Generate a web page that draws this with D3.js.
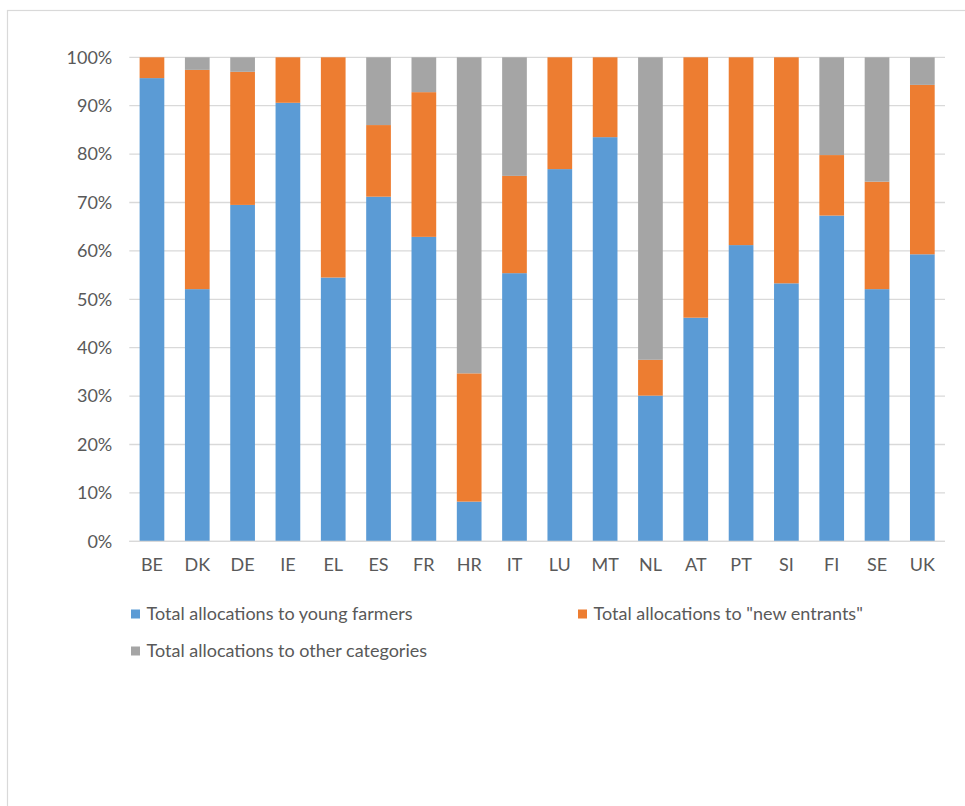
<!DOCTYPE html>
<html>
<head>
<meta charset="utf-8">
<script src="https://cdn.jsdelivr.net/npm/d3@7"></script>
<style>
  html, body { margin: 0; padding: 0; background: #fff; }
  svg { display: block; }
  text { font-family: Lato, "Open Sans", sans-serif; fill: #595959; }
</style>
</head>
<body>
<svg id="chart" width="965" height="806"></svg>
<script>
// Member states
const countries = ["BE","DK","DE","IE","EL","ES","FR","HR","IT","LU","MT","NL","AT","PT","SI","FI","SE","UK"];

// Share of allocations (%) by category
const youngFarmers = [95.7,52.1,69.5,90.6,54.5,71.2,62.9,8.2,55.4,76.9,83.5,30.1,46.2,61.2,53.3,67.3,52.1,59.3];
const newEntrants  = [ 4.3,45.3,27.5, 9.4,45.5,14.8,29.9,26.5,20.1,23.1,16.5, 7.4,53.8,38.8,46.7,12.5,22.2,35.0];
const otherCats    = [ 0.0, 2.6, 3.0, 0.0, 0.0,14.0, 7.2,65.3,24.5, 0.0, 0.0,62.5, 0.0, 0.0, 0.0,20.2,25.7, 5.7];

const seriesNames = ["Total allocations to young farmers", "Total allocations to \"new entrants\"", "Total allocations to other categories"];
const seriesColors = ["#5b9bd5", "#ed7d31", "#a5a5a5"];
const yTicks = [0,10,20,30,40,50,60,70,80,90,100];

const svg = d3.select("#chart");

// Chart frame
svg.append("rect")
  .attr("x", 7.5).attr("y", 10.5)
  .attr("width", 1000).attr("height", 900)
  .attr("fill", "#fff").attr("stroke", "#d9d9d9").attr("stroke-width", 1.2);

const plot = { left: 129.3, right: 945, top: 57.3, bottom: 541.3 };

const x = d3.scaleBand().domain(countries).range([plot.left, plot.right]).paddingInner(0.455).paddingOuter(0.2275);
const y = d3.scaleLinear().domain([0, 100]).range([plot.bottom, plot.top]);

// Gridlines
svg.append("g").selectAll("line").data(yTicks).join("line")
  .attr("x1", plot.left).attr("x2", plot.right)
  .attr("y1", d => y(d)).attr("y2", d => y(d))
  .attr("stroke", "#d9d9d9").attr("stroke-width", 1.3);

// Y axis labels
const yAxis = d3.axisLeft(y).tickValues(yTicks).tickFormat(d => d + "%").tickSize(0).tickPadding(17);
const gy = svg.append("g").attr("transform", `translate(${plot.left},0)`).call(yAxis);
gy.select(".domain").remove();
gy.selectAll("text").attr("font-size", 18).attr("fill", "#595959").style("font-family", "Lato, 'Open Sans', sans-serif");

// Stacked bars
const rows = countries.map((c, i) => ({ country: c, young: youngFarmers[i], entrants: newEntrants[i], other: otherCats[i] }));
const stack = d3.stack().keys(["young", "entrants", "other"]);
const layers = stack(rows);

svg.append("g").selectAll("g").data(layers).join("g")
  .attr("fill", (d, i) => seriesColors[i])
  .selectAll("rect").data(d => d).join("rect")
  .attr("x", d => x(d.data.country))
  .attr("width", x.bandwidth())
  .attr("y", d => y(d[1]))
  .attr("height", d => Math.max(0, y(d[0]) - y(d[1])));

// X axis line and labels
const xAxis = d3.axisBottom(x).tickSize(0).tickPadding(17);
const gx = svg.append("g").attr("transform", `translate(0,${plot.bottom})`).call(xAxis);
gx.select(".domain").attr("stroke", "#d9d9d9").attr("stroke-width", 1.3).attr("d", `M${plot.left},0H${plot.right}`);
gx.selectAll("text").attr("font-size", 18).attr("fill", "#595959").style("font-family", "Lato, 'Open Sans', sans-serif");

// Legend
const legendPos = [[131, 614], [578, 614], [131, 651]];
const legend = svg.append("g").selectAll("g").data(seriesNames).join("g")
  .attr("transform", (d, i) => `translate(${legendPos[i][0]},${legendPos[i][1]})`);
legend.append("rect").attr("x", 0).attr("y", -4.5).attr("width", 9).attr("height", 9)
  .attr("fill", (d, i) => seriesColors[i]);
legend.append("text").attr("x", 15.5).attr("y", 0).attr("dy", "0.35em")
  .attr("font-size", 18).text(d => d);
</script>
</body>
</html>
